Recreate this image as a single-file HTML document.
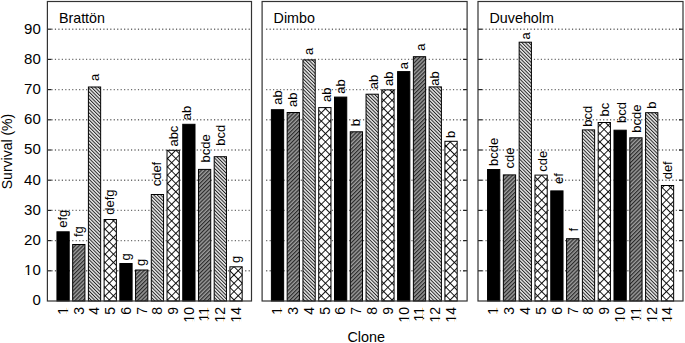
<!DOCTYPE html>
<html><head><meta charset="utf-8"><style>
html,body{margin:0;padding:0;background:#fff;}
svg{display:block;font-family:"Liberation Sans",sans-serif;}
</style></head><body>
<svg width="685" height="343" viewBox="0 0 685 343">
<defs>
<pattern id="dk" patternUnits="userSpaceOnUse" width="2.76" height="10" patternTransform="rotate(45)">
<rect width="2.76" height="10" fill="#9a9a9a"/><rect width="1.2" height="10" fill="#2a2a2a"/></pattern>
<pattern id="lt" patternUnits="userSpaceOnUse" width="2.47" height="10" patternTransform="rotate(-45)">
<rect width="2.47" height="10" fill="#e6e6e6"/><rect width="0.95" height="10" fill="#222"/></pattern>
<pattern id="xh" patternUnits="userSpaceOnUse" width="5.88" height="5.88" patternTransform="translate(1.17,-0.16) rotate(45)">
<rect width="5.88" height="5.88" fill="#fff"/><rect width="0.9" height="5.88" fill="#000"/><rect width="5.88" height="0.9" fill="#000"/></pattern>
</defs>
<rect width="685" height="343" fill="#fff"/>

<line x1="51.4" y1="270.80" x2="250.5" y2="270.80" stroke="#6e6e6e" stroke-width="1.4" stroke-dasharray="1.2 2.26"/>
<line x1="51.4" y1="240.60" x2="250.5" y2="240.60" stroke="#6e6e6e" stroke-width="1.4" stroke-dasharray="1.2 2.26"/>
<line x1="51.4" y1="210.40" x2="250.5" y2="210.40" stroke="#6e6e6e" stroke-width="1.4" stroke-dasharray="1.2 2.26"/>
<line x1="51.4" y1="180.20" x2="250.5" y2="180.20" stroke="#6e6e6e" stroke-width="1.4" stroke-dasharray="1.2 2.26"/>
<line x1="51.4" y1="150.00" x2="250.5" y2="150.00" stroke="#6e6e6e" stroke-width="1.4" stroke-dasharray="1.2 2.26"/>
<line x1="51.4" y1="119.80" x2="250.5" y2="119.80" stroke="#6e6e6e" stroke-width="1.4" stroke-dasharray="1.2 2.26"/>
<line x1="51.4" y1="89.60" x2="250.5" y2="89.60" stroke="#6e6e6e" stroke-width="1.4" stroke-dasharray="1.2 2.26"/>
<line x1="51.4" y1="59.40" x2="250.5" y2="59.40" stroke="#6e6e6e" stroke-width="1.4" stroke-dasharray="1.2 2.26"/>
<line x1="51.4" y1="29.20" x2="250.5" y2="29.20" stroke="#6e6e6e" stroke-width="1.4" stroke-dasharray="1.2 2.26"/>
<rect x="56.95" y="231.80" width="12.25" height="69.20" fill="#000" stroke="#000" stroke-width="1"/>
<text transform="translate(66.62,227.85) rotate(-90)" font-size="13">efg</text>
<text transform="translate(67.88,307) rotate(-90)" font-size="14" text-anchor="end">1</text>
<rect x="72.67" y="244.50" width="12.25" height="56.50" fill="url(#dk)" stroke="#000" stroke-width="1"/>
<text transform="translate(82.55,237.10) rotate(-90)" font-size="13">fg</text>
<text transform="translate(83.60,307) rotate(-90)" font-size="14" text-anchor="end">3</text>
<rect x="88.40" y="87.00" width="12.25" height="214.00" fill="url(#lt)" stroke="#000" stroke-width="1"/>
<text transform="translate(98.53,80.95) rotate(-90)" font-size="13">a</text>
<text transform="translate(99.33,307) rotate(-90)" font-size="14" text-anchor="end">4</text>
<rect x="104.12" y="219.50" width="12.25" height="81.50" fill="url(#xh)" stroke="#000" stroke-width="1"/>
<text transform="translate(114.30,214.75) rotate(-90)" font-size="13">defg</text>
<text transform="translate(115.05,307) rotate(-90)" font-size="14" text-anchor="end">5</text>
<rect x="119.85" y="263.50" width="12.25" height="37.50" fill="#000" stroke="#000" stroke-width="1"/>
<text transform="translate(129.88,260.60) rotate(-90)" font-size="13">g</text>
<text transform="translate(130.78,307) rotate(-90)" font-size="14" text-anchor="end">6</text>
<rect x="135.57" y="270.00" width="12.25" height="31.00" fill="url(#dk)" stroke="#000" stroke-width="1"/>
<text transform="translate(145.00,266.10) rotate(-90)" font-size="13">g</text>
<text transform="translate(146.50,307) rotate(-90)" font-size="14" text-anchor="end">7</text>
<rect x="151.30" y="194.50" width="12.25" height="106.50" fill="url(#lt)" stroke="#000" stroke-width="1"/>
<text transform="translate(161.18,186.35) rotate(-90)" font-size="13">cdef</text>
<text transform="translate(162.23,307) rotate(-90)" font-size="14" text-anchor="end">8</text>
<rect x="167.03" y="150.30" width="12.25" height="150.70" fill="url(#xh)" stroke="#000" stroke-width="1"/>
<text transform="translate(177.55,146.60) rotate(-90)" font-size="13">abc</text>
<text transform="translate(177.95,307) rotate(-90)" font-size="14" text-anchor="end">9</text>
<rect x="182.75" y="124.30" width="12.25" height="176.70" fill="#000" stroke="#000" stroke-width="1"/>
<text transform="translate(191.12,120.15) rotate(-90)" font-size="13">ab</text>
<text transform="translate(193.68,307) rotate(-90)" font-size="14" text-anchor="end">10</text>
<rect x="198.48" y="169.40" width="12.25" height="131.60" fill="url(#dk)" stroke="#000" stroke-width="1"/>
<text transform="translate(209.55,162.45) rotate(-90)" font-size="13">bcde</text>
<text transform="translate(209.40,307) rotate(-90)" font-size="14" text-anchor="end">11</text>
<rect x="214.20" y="156.70" width="12.25" height="144.30" fill="url(#lt)" stroke="#000" stroke-width="1"/>
<text transform="translate(225.07,145.75) rotate(-90)" font-size="13">bcd</text>
<text transform="translate(225.12,307) rotate(-90)" font-size="14" text-anchor="end">12</text>
<rect x="229.93" y="266.80" width="12.25" height="34.20" fill="url(#xh)" stroke="#000" stroke-width="1"/>
<text transform="translate(240.35,263.10) rotate(-90)" font-size="13">g</text>
<text transform="translate(240.85,307) rotate(-90)" font-size="14" text-anchor="end">14</text>
<line x1="47.4" y1="270.80" x2="51.4" y2="270.80" stroke="#222" stroke-width="1.2"/>
<line x1="47.4" y1="240.60" x2="51.4" y2="240.60" stroke="#222" stroke-width="1.2"/>
<line x1="47.4" y1="210.40" x2="51.4" y2="210.40" stroke="#222" stroke-width="1.2"/>
<line x1="47.4" y1="180.20" x2="51.4" y2="180.20" stroke="#222" stroke-width="1.2"/>
<line x1="47.4" y1="150.00" x2="51.4" y2="150.00" stroke="#222" stroke-width="1.2"/>
<line x1="47.4" y1="119.80" x2="51.4" y2="119.80" stroke="#222" stroke-width="1.2"/>
<line x1="47.4" y1="89.60" x2="51.4" y2="89.60" stroke="#222" stroke-width="1.2"/>
<line x1="47.4" y1="59.40" x2="51.4" y2="59.40" stroke="#222" stroke-width="1.2"/>
<line x1="47.4" y1="29.20" x2="51.4" y2="29.20" stroke="#222" stroke-width="1.2"/>
<rect x="47.4" y="1.5" width="204.1" height="299.5" fill="none" stroke="#333" stroke-width="1.2"/>
<text x="58.90" y="23" font-size="14.3">Brattön</text>
<line x1="266.1" y1="270.80" x2="466.1" y2="270.80" stroke="#6e6e6e" stroke-width="1.4" stroke-dasharray="1.2 2.26"/>
<line x1="266.1" y1="240.60" x2="466.1" y2="240.60" stroke="#6e6e6e" stroke-width="1.4" stroke-dasharray="1.2 2.26"/>
<line x1="266.1" y1="210.40" x2="466.1" y2="210.40" stroke="#6e6e6e" stroke-width="1.4" stroke-dasharray="1.2 2.26"/>
<line x1="266.1" y1="180.20" x2="466.1" y2="180.20" stroke="#6e6e6e" stroke-width="1.4" stroke-dasharray="1.2 2.26"/>
<line x1="266.1" y1="150.00" x2="466.1" y2="150.00" stroke="#6e6e6e" stroke-width="1.4" stroke-dasharray="1.2 2.26"/>
<line x1="266.1" y1="119.80" x2="466.1" y2="119.80" stroke="#6e6e6e" stroke-width="1.4" stroke-dasharray="1.2 2.26"/>
<line x1="266.1" y1="89.60" x2="466.1" y2="89.60" stroke="#6e6e6e" stroke-width="1.4" stroke-dasharray="1.2 2.26"/>
<line x1="266.1" y1="59.40" x2="466.1" y2="59.40" stroke="#6e6e6e" stroke-width="1.4" stroke-dasharray="1.2 2.26"/>
<line x1="266.1" y1="29.20" x2="466.1" y2="29.20" stroke="#6e6e6e" stroke-width="1.4" stroke-dasharray="1.2 2.26"/>
<rect x="271.40" y="109.70" width="12.25" height="191.30" fill="#000" stroke="#000" stroke-width="1"/>
<text transform="translate(282.18,104.80) rotate(-90)" font-size="13">ab</text>
<text transform="translate(282.32,307) rotate(-90)" font-size="14" text-anchor="end">1</text>
<rect x="287.17" y="112.50" width="12.25" height="188.50" fill="url(#dk)" stroke="#000" stroke-width="1"/>
<text transform="translate(296.95,107.00) rotate(-90)" font-size="13">ab</text>
<text transform="translate(298.10,307) rotate(-90)" font-size="14" text-anchor="end">3</text>
<rect x="302.95" y="59.90" width="12.25" height="241.10" fill="url(#lt)" stroke="#000" stroke-width="1"/>
<text transform="translate(313.38,55.00) rotate(-90)" font-size="13">a</text>
<text transform="translate(313.88,307) rotate(-90)" font-size="14" text-anchor="end">4</text>
<rect x="318.72" y="107.60" width="12.25" height="193.40" fill="url(#xh)" stroke="#000" stroke-width="1"/>
<text transform="translate(330.85,102.05) rotate(-90)" font-size="13">ab</text>
<text transform="translate(329.65,307) rotate(-90)" font-size="14" text-anchor="end">5</text>
<rect x="334.50" y="97.10" width="12.25" height="203.90" fill="#000" stroke="#000" stroke-width="1"/>
<text transform="translate(344.53,93.85) rotate(-90)" font-size="13">ab</text>
<text transform="translate(345.43,307) rotate(-90)" font-size="14" text-anchor="end">6</text>
<rect x="350.27" y="131.80" width="12.25" height="169.20" fill="url(#dk)" stroke="#000" stroke-width="1"/>
<text transform="translate(360.25,126.15) rotate(-90)" font-size="13">b</text>
<text transform="translate(361.20,307) rotate(-90)" font-size="14" text-anchor="end">7</text>
<rect x="366.05" y="94.20" width="12.25" height="206.80" fill="url(#lt)" stroke="#000" stroke-width="1"/>
<text transform="translate(377.77,89.25) rotate(-90)" font-size="13">ab</text>
<text transform="translate(376.97,307) rotate(-90)" font-size="14" text-anchor="end">8</text>
<rect x="381.82" y="89.90" width="12.25" height="211.10" fill="url(#xh)" stroke="#000" stroke-width="1"/>
<text transform="translate(393.15,86.05) rotate(-90)" font-size="13">ab</text>
<text transform="translate(392.75,307) rotate(-90)" font-size="14" text-anchor="end">9</text>
<rect x="397.60" y="71.60" width="12.25" height="229.40" fill="#000" stroke="#000" stroke-width="1"/>
<text transform="translate(408.38,69.20) rotate(-90)" font-size="13">a</text>
<text transform="translate(408.52,307) rotate(-90)" font-size="14" text-anchor="end">10</text>
<rect x="413.38" y="56.70" width="12.25" height="244.30" fill="url(#dk)" stroke="#000" stroke-width="1"/>
<text transform="translate(424.55,50.65) rotate(-90)" font-size="13">a</text>
<text transform="translate(424.30,307) rotate(-90)" font-size="14" text-anchor="end">11</text>
<rect x="429.15" y="86.90" width="12.25" height="214.10" fill="url(#lt)" stroke="#000" stroke-width="1"/>
<text transform="translate(438.88,85.80) rotate(-90)" font-size="13">ab</text>
<text transform="translate(440.07,307) rotate(-90)" font-size="14" text-anchor="end">12</text>
<rect x="444.92" y="141.30" width="12.25" height="159.70" fill="url(#xh)" stroke="#000" stroke-width="1"/>
<text transform="translate(455.15,138.00) rotate(-90)" font-size="13">b</text>
<text transform="translate(455.85,307) rotate(-90)" font-size="14" text-anchor="end">14</text>
<line x1="463.1" y1="270.80" x2="467.1" y2="270.80" stroke="#222" stroke-width="1.2"/>
<line x1="463.1" y1="240.60" x2="467.1" y2="240.60" stroke="#222" stroke-width="1.2"/>
<line x1="463.1" y1="210.40" x2="467.1" y2="210.40" stroke="#222" stroke-width="1.2"/>
<line x1="463.1" y1="180.20" x2="467.1" y2="180.20" stroke="#222" stroke-width="1.2"/>
<line x1="463.1" y1="150.00" x2="467.1" y2="150.00" stroke="#222" stroke-width="1.2"/>
<line x1="463.1" y1="119.80" x2="467.1" y2="119.80" stroke="#222" stroke-width="1.2"/>
<line x1="463.1" y1="89.60" x2="467.1" y2="89.60" stroke="#222" stroke-width="1.2"/>
<line x1="463.1" y1="59.40" x2="467.1" y2="59.40" stroke="#222" stroke-width="1.2"/>
<line x1="463.1" y1="29.20" x2="467.1" y2="29.20" stroke="#222" stroke-width="1.2"/>
<rect x="262.1" y="1.5" width="205.0" height="299.5" fill="none" stroke="#333" stroke-width="1.2"/>
<text x="273.60" y="23" font-size="14.3">Dimbo</text>
<line x1="482" y1="270.80" x2="682" y2="270.80" stroke="#6e6e6e" stroke-width="1.4" stroke-dasharray="1.2 2.26"/>
<line x1="482" y1="240.60" x2="682" y2="240.60" stroke="#6e6e6e" stroke-width="1.4" stroke-dasharray="1.2 2.26"/>
<line x1="482" y1="210.40" x2="682" y2="210.40" stroke="#6e6e6e" stroke-width="1.4" stroke-dasharray="1.2 2.26"/>
<line x1="482" y1="180.20" x2="682" y2="180.20" stroke="#6e6e6e" stroke-width="1.4" stroke-dasharray="1.2 2.26"/>
<line x1="482" y1="150.00" x2="682" y2="150.00" stroke="#6e6e6e" stroke-width="1.4" stroke-dasharray="1.2 2.26"/>
<line x1="482" y1="119.80" x2="682" y2="119.80" stroke="#6e6e6e" stroke-width="1.4" stroke-dasharray="1.2 2.26"/>
<line x1="482" y1="89.60" x2="682" y2="89.60" stroke="#6e6e6e" stroke-width="1.4" stroke-dasharray="1.2 2.26"/>
<line x1="482" y1="59.40" x2="682" y2="59.40" stroke="#6e6e6e" stroke-width="1.4" stroke-dasharray="1.2 2.26"/>
<line x1="482" y1="29.20" x2="682" y2="29.20" stroke="#6e6e6e" stroke-width="1.4" stroke-dasharray="1.2 2.26"/>
<rect x="487.55" y="169.50" width="12.25" height="131.50" fill="#000" stroke="#000" stroke-width="1"/>
<text transform="translate(497.78,165.90) rotate(-90)" font-size="13">bcde</text>
<text transform="translate(498.48,307) rotate(-90)" font-size="14" text-anchor="end">1</text>
<rect x="503.36" y="174.90" width="12.25" height="126.10" fill="url(#dk)" stroke="#000" stroke-width="1"/>
<text transform="translate(513.78,168.60) rotate(-90)" font-size="13">cde</text>
<text transform="translate(514.28,307) rotate(-90)" font-size="14" text-anchor="end">3</text>
<rect x="519.16" y="42.20" width="12.25" height="258.80" fill="url(#lt)" stroke="#000" stroke-width="1"/>
<text transform="translate(529.83,39.40) rotate(-90)" font-size="13">a</text>
<text transform="translate(530.08,307) rotate(-90)" font-size="14" text-anchor="end">4</text>
<rect x="534.97" y="175.10" width="12.25" height="125.90" fill="url(#xh)" stroke="#000" stroke-width="1"/>
<text transform="translate(546.79,171.70) rotate(-90)" font-size="13">cde</text>
<text transform="translate(545.89,307) rotate(-90)" font-size="14" text-anchor="end">5</text>
<rect x="550.77" y="190.90" width="12.25" height="110.10" fill="#000" stroke="#000" stroke-width="1"/>
<text transform="translate(563.09,183.90) rotate(-90)" font-size="13">ef</text>
<text transform="translate(561.69,307) rotate(-90)" font-size="14" text-anchor="end">6</text>
<rect x="566.58" y="238.70" width="12.25" height="62.30" fill="url(#dk)" stroke="#000" stroke-width="1"/>
<text transform="translate(577.55,231.50) rotate(-90)" font-size="13">f</text>
<text transform="translate(577.50,307) rotate(-90)" font-size="14" text-anchor="end">7</text>
<rect x="582.38" y="129.90" width="12.25" height="171.10" fill="url(#lt)" stroke="#000" stroke-width="1"/>
<text transform="translate(591.50,126.70) rotate(-90)" font-size="13">bcd</text>
<text transform="translate(593.30,307) rotate(-90)" font-size="14" text-anchor="end">8</text>
<rect x="598.18" y="122.50" width="12.25" height="178.50" fill="url(#xh)" stroke="#000" stroke-width="1"/>
<text transform="translate(608.61,116.40) rotate(-90)" font-size="13">bc</text>
<text transform="translate(609.11,307) rotate(-90)" font-size="14" text-anchor="end">9</text>
<rect x="613.99" y="130.20" width="12.25" height="170.80" fill="#000" stroke="#000" stroke-width="1"/>
<text transform="translate(625.87,123.05) rotate(-90)" font-size="13">bcd</text>
<text transform="translate(624.91,307) rotate(-90)" font-size="14" text-anchor="end">10</text>
<rect x="629.80" y="137.80" width="12.25" height="163.20" fill="url(#dk)" stroke="#000" stroke-width="1"/>
<text transform="translate(640.92,132.75) rotate(-90)" font-size="13">bcde</text>
<text transform="translate(640.72,307) rotate(-90)" font-size="14" text-anchor="end">11</text>
<rect x="645.60" y="112.70" width="12.25" height="188.30" fill="url(#lt)" stroke="#000" stroke-width="1"/>
<text transform="translate(655.62,108.85) rotate(-90)" font-size="13">b</text>
<text transform="translate(656.52,307) rotate(-90)" font-size="14" text-anchor="end">12</text>
<rect x="661.40" y="185.50" width="12.25" height="115.50" fill="url(#xh)" stroke="#000" stroke-width="1"/>
<text transform="translate(671.93,179.35) rotate(-90)" font-size="13">def</text>
<text transform="translate(672.33,307) rotate(-90)" font-size="14" text-anchor="end">14</text>
<line x1="478" y1="270.80" x2="482" y2="270.80" stroke="#222" stroke-width="1.2"/>
<line x1="679" y1="270.80" x2="683" y2="270.80" stroke="#222" stroke-width="1.2"/>
<line x1="478" y1="240.60" x2="482" y2="240.60" stroke="#222" stroke-width="1.2"/>
<line x1="679" y1="240.60" x2="683" y2="240.60" stroke="#222" stroke-width="1.2"/>
<line x1="478" y1="210.40" x2="482" y2="210.40" stroke="#222" stroke-width="1.2"/>
<line x1="679" y1="210.40" x2="683" y2="210.40" stroke="#222" stroke-width="1.2"/>
<line x1="478" y1="180.20" x2="482" y2="180.20" stroke="#222" stroke-width="1.2"/>
<line x1="679" y1="180.20" x2="683" y2="180.20" stroke="#222" stroke-width="1.2"/>
<line x1="478" y1="150.00" x2="482" y2="150.00" stroke="#222" stroke-width="1.2"/>
<line x1="679" y1="150.00" x2="683" y2="150.00" stroke="#222" stroke-width="1.2"/>
<line x1="478" y1="119.80" x2="482" y2="119.80" stroke="#222" stroke-width="1.2"/>
<line x1="679" y1="119.80" x2="683" y2="119.80" stroke="#222" stroke-width="1.2"/>
<line x1="478" y1="89.60" x2="482" y2="89.60" stroke="#222" stroke-width="1.2"/>
<line x1="679" y1="89.60" x2="683" y2="89.60" stroke="#222" stroke-width="1.2"/>
<line x1="478" y1="59.40" x2="482" y2="59.40" stroke="#222" stroke-width="1.2"/>
<line x1="679" y1="59.40" x2="683" y2="59.40" stroke="#222" stroke-width="1.2"/>
<line x1="478" y1="29.20" x2="482" y2="29.20" stroke="#222" stroke-width="1.2"/>
<line x1="679" y1="29.20" x2="683" y2="29.20" stroke="#222" stroke-width="1.2"/>
<rect x="478" y="1.5" width="205" height="299.5" fill="none" stroke="#333" stroke-width="1.2"/>
<text x="489.50" y="23" font-size="14.3">Duveholm</text>
<text x="40.8" y="305.30" font-size="15" text-anchor="end">0</text>
<text x="40.8" y="275.10" font-size="15" text-anchor="end">10</text>
<text x="40.8" y="244.90" font-size="15" text-anchor="end">20</text>
<text x="40.8" y="214.70" font-size="15" text-anchor="end">30</text>
<text x="40.8" y="184.50" font-size="15" text-anchor="end">40</text>
<text x="40.8" y="154.30" font-size="15" text-anchor="end">50</text>
<text x="40.8" y="124.10" font-size="15" text-anchor="end">60</text>
<text x="40.8" y="93.90" font-size="15" text-anchor="end">70</text>
<text x="40.8" y="63.70" font-size="15" text-anchor="end">80</text>
<text x="40.8" y="33.50" font-size="15" text-anchor="end">90</text>
<text transform="translate(12.0,151.5) rotate(-90)" font-size="14" text-anchor="middle">Survival (%)</text>
<text x="366.2" y="341.6" font-size="14.4" text-anchor="middle">Clone</text>
<rect x="66.53" y="311.37" width="2.35" height="3.05" fill="#fff"/>
<rect x="66.53" y="306.98" width="2.35" height="2.94" fill="#fff"/>
<rect x="192.33" y="319.15" width="2.35" height="3.05" fill="#fff"/>
<rect x="192.33" y="314.77" width="2.35" height="2.94" fill="#fff"/>
<rect x="208.05" y="319.15" width="2.35" height="3.05" fill="#fff"/>
<rect x="208.05" y="314.77" width="2.35" height="2.94" fill="#fff"/>
<rect x="208.05" y="311.37" width="2.35" height="3.05" fill="#fff"/>
<rect x="208.05" y="306.98" width="2.35" height="2.94" fill="#fff"/>
<rect x="223.78" y="319.15" width="2.35" height="3.05" fill="#fff"/>
<rect x="223.78" y="314.77" width="2.35" height="2.94" fill="#fff"/>
<rect x="239.50" y="319.15" width="2.35" height="3.05" fill="#fff"/>
<rect x="239.50" y="314.77" width="2.35" height="2.94" fill="#fff"/>
<rect x="280.98" y="311.37" width="2.35" height="3.05" fill="#fff"/>
<rect x="280.98" y="306.98" width="2.35" height="2.94" fill="#fff"/>
<rect x="407.18" y="319.15" width="2.35" height="3.05" fill="#fff"/>
<rect x="407.18" y="314.77" width="2.35" height="2.94" fill="#fff"/>
<rect x="422.95" y="319.15" width="2.35" height="3.05" fill="#fff"/>
<rect x="422.95" y="314.77" width="2.35" height="2.94" fill="#fff"/>
<rect x="422.95" y="311.37" width="2.35" height="3.05" fill="#fff"/>
<rect x="422.95" y="306.98" width="2.35" height="2.94" fill="#fff"/>
<rect x="438.73" y="319.15" width="2.35" height="3.05" fill="#fff"/>
<rect x="438.73" y="314.77" width="2.35" height="2.94" fill="#fff"/>
<rect x="454.50" y="319.15" width="2.35" height="3.05" fill="#fff"/>
<rect x="454.50" y="314.77" width="2.35" height="2.94" fill="#fff"/>
<rect x="497.13" y="311.37" width="2.35" height="3.05" fill="#fff"/>
<rect x="497.13" y="306.98" width="2.35" height="2.94" fill="#fff"/>
<rect x="623.57" y="319.15" width="2.35" height="3.05" fill="#fff"/>
<rect x="623.57" y="314.77" width="2.35" height="2.94" fill="#fff"/>
<rect x="639.37" y="319.15" width="2.35" height="3.05" fill="#fff"/>
<rect x="639.37" y="314.77" width="2.35" height="2.94" fill="#fff"/>
<rect x="639.37" y="311.37" width="2.35" height="3.05" fill="#fff"/>
<rect x="639.37" y="306.98" width="2.35" height="2.94" fill="#fff"/>
<rect x="655.18" y="319.15" width="2.35" height="3.05" fill="#fff"/>
<rect x="655.18" y="314.77" width="2.35" height="2.94" fill="#fff"/>
<rect x="670.98" y="319.15" width="2.35" height="3.05" fill="#fff"/>
<rect x="670.98" y="314.77" width="2.35" height="2.94" fill="#fff"/>
<rect x="24.56" y="273.75" width="3.23" height="1.55" fill="#fff"/>
<rect x="29.31" y="273.75" width="3.11" height="1.55" fill="#fff"/>
</svg>
</body></html>
